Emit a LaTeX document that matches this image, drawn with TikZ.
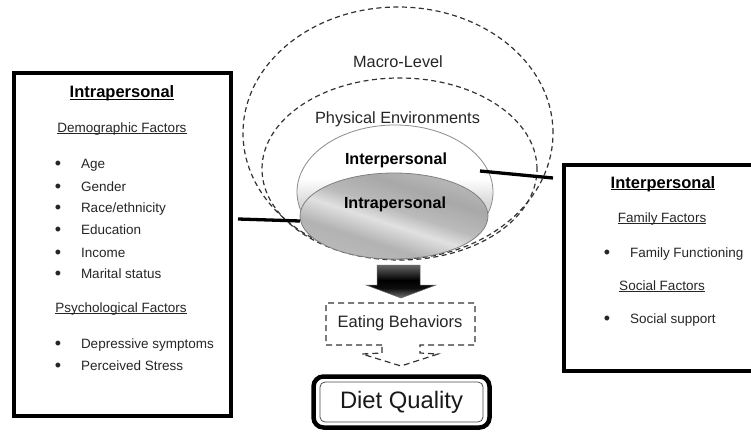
\documentclass[tikz,border=0pt]{standalone}
\usepackage{fontspec}
\setmainfont{Liberation Sans}
\usetikzlibrary{shapes.geometric}

% soft light band in the lower part of the interpersonal ellipse
\pgfdeclareverticalshading{interband}{100bp}{color(0bp)=(black!20); color(25bp)=(black!20); color(46bp)=(black!15); color(55bp)=(white); color(100bp)=(white)}
% streaky grey of the intrapersonal core
\pgfdeclareverticalshading{coreshade}{100bp}{color(0bp)=(black!27); color(25bp)=(black!27); color(36bp)=(black!30); color(46bp)=(black!12); color(53bp)=(black!27); color(64bp)=(black!34); color(75bp)=(black!27); color(100bp)=(black!27)}
% dark block arrow
\pgfdeclareverticalshading{blockshade}{100bp}{color(0bp)=(black!55); color(25bp)=(black!55); color(40bp)=(black!95); color(52bp)=(black); color(75bp)=(black!60); color(100bp)=(black!60)}

\newcommand\ulword[2][0.8pt]{\setbox0\hbox{#2}\rlap{\rule[-2pt]{\wd0}{#1}}\box0}

\begin{document}
\begin{tikzpicture}[x=1pt,y=-1pt,
  every node/.style={inner sep=0pt, outer sep=0pt, text=black!85},
  item/.style={anchor=base west, font=\fontsize{13.5}{16}\selectfont},
  dot/.style={anchor=base, font=\fontsize{18}{20}\selectfont, yshift=-1.6pt},
  sub/.style={anchor=base, font=\fontsize{13.5}{16}\selectfont},
  head/.style={anchor=base, font=\fontsize{16.5}{20}\selectfont\bfseries, text=black},
  big/.style={anchor=base, font=\fontsize{16.3}{20}\selectfont},
  panel/.style={draw=black, line width=4pt},
  ring/.style={ellipse, draw=black!80, line width=1.2pt, dash pattern=on 5pt off 3.5pt},
  link/.style={draw=black, line width=3.3pt},
  callout/.style={draw=black!80, line width=1.2pt, dash pattern=on 6pt off 4pt},
]
\clip (0,0) rectangle (751,433);
\fill[white] (0,0) rectangle (751,433);

% ---------- nested levels ----------
\node[ring, minimum width=310pt, minimum height=252pt] (macro) at (398,133) {};
\node[ring, minimum width=275pt, minimum height=182pt] (phys) at (399.5,169) {};
\node[ellipse, draw=black!45, line width=0.8pt, shade, shading=interband,
      minimum width=196pt, minimum height=134pt] (inter) at (395,192) {};
\node[ellipse, draw=black!50, line width=0.8pt, shade, shading=coreshade, shading angle=-18,
      minimum width=188pt, minimum height=86pt] (intra) at (394,216) {};

\node[big] (macroT) at (398,68) {Macro-Level};
\node[big] (physT) at (397.5,123) {Physical Environments};
\node[head, font=\fontsize{16.1}{20}\selectfont\bfseries] (interT) at (396,164) {Interpersonal};
\node[head, font=\fontsize{16.1}{20}\selectfont\bfseries] (intraT) at (395,208) {Intrapersonal};

% ---------- left panel: intrapersonal factors ----------
\node[panel, minimum width=217pt, minimum height=342pt] (lbox) at (122,244.5) {};
\node[head] (lhead) at (122,98) {\ulword[1.1pt]{Intrapersonal}};
\node[sub] (demo) at (122,132) {\ulword{Demographic Factors}};
\node[dot] (b1) at (58,168) {•};  \node[item] (age) at (81,168) {Age};
\node[dot] (b2) at (58,191) {•};  \node[item] (gender) at (81,191) {Gender};
\node[dot] (b3) at (58,212) {•};  \node[item] (race) at (81,212) {Race/ethnicity};
\node[dot] (b4) at (58,234) {•};  \node[item] (edu) at (81,234) {Education};
\node[dot] (b5) at (58,257) {•};  \node[item] (inc) at (81,257) {Income};
\node[dot] (b6) at (58,278) {•};  \node[item] (mar) at (81,278) {Marital status};
\node[sub] (psych) at (121,312) {\ulword{Psychological Factors}};
\node[dot] (b7) at (58,348) {•};  \node[item] (dep) at (81,348) {Depressive symptoms};
\node[dot] (b8) at (58,370) {•};  \node[item] (str) at (81,370) {Perceived Stress};

% ---------- right panel: interpersonal factors ----------
\node[panel, minimum width=240pt, minimum height=206pt] (rbox) at (684,268) {};
\node[head] (rhead) at (663,188) {\ulword[1.1pt]{Interpersonal}};
\node[sub] (fam) at (662,222) {\ulword{Family Factors}};
\node[dot] (b9) at (607,257) {•};  \node[item] (famf) at (630,257) {Family Functioning};
\node[sub] (soc) at (662,290) {\ulword{Social Factors}};
\node[dot] (b10) at (607,323) {•}; \node[item] (socs) at (630,323) {Social support};

% ---------- links from panels to the levels ----------
\coordinate (lA) at (238,219);
\coordinate (lB) at (300,221);
\coordinate (rA) at (480,171);
\coordinate (rB) at (553,178);
\draw[link] (lA) -- (lB);
\draw[link] (rA) -- (rB);

% ---------- outcome chain ----------
\shade[shading=blockshade, draw=black!60, line width=0.5pt]
  (377,265) -- (420,265) -- (420,285) -- (436,285) -- (401,298) -- (366,285) -- (377,285) -- cycle;

\node[big, font=\fontsize{16.5}{20}\selectfont] (eb) at (400,327) {Eating Behaviors};
\draw[callout] (382,345) -- (326,345) -- (326,303) -- (475,303) -- (475,345) -- (420,345)
  -- (420,353) -- (438,354) -- (401,366) -- (362,354) -- (382,353) -- cycle;

\node[draw=black!70, line width=0.8pt, rounded corners=5pt, minimum width=163pt, minimum height=40pt,
      font=\fontsize{23.8}{28}\selectfont, text=black!90] (dq) at (401.5,402) {Diet Quality};
\draw[line width=4.5pt, rounded corners=10pt]
  ([shift={(-6.5pt,-5.5pt)}]dq.south west) rectangle ([shift={(6.5pt,5.5pt)}]dq.north east);
\end{tikzpicture}
\end{document}
